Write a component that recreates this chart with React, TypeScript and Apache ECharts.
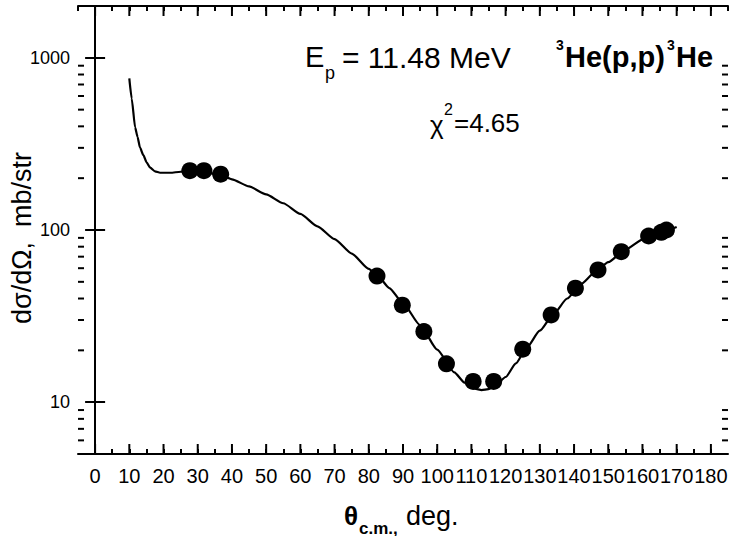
import React, { useEffect, useRef } from "react";
import * as echarts from "echarts";

// Experimental points: angle (deg, c.m.) and cross section (mb/str)
const pointAngles = [27.7, 31.8, 36.7, 82.4, 89.8, 96.1, 102.7, 110.5, 116.5, 125.0, 133.3, 140.4, 147.0, 153.8, 161.8, 165.5, 167.0];
const pointValues = [221, 221, 211, 54, 36.6, 25.7, 16.7, 13.2, 13.2, 20.3, 32.1, 45.9, 58.6, 74.8, 92.3, 97, 100];

// Fitted curve
const curveAngles = [10, 10.7, 11.7, 12.4, 13.1, 14.1, 15.1, 16.1, 17.5, 19, 22, 25, 28, 32, 37, 40, 45, 50, 55, 60, 65, 70, 75, 80, 83, 86, 90, 95, 100, 105, 108, 111, 113, 115, 117, 120, 123, 126, 130, 134, 138, 142, 146, 150, 155, 160, 165, 170];
const curveValues = [760, 580, 394, 348, 302, 272, 246, 230, 219, 215, 215, 218, 220, 217, 208, 197, 179, 161, 143, 124, 105, 88.5, 73, 59.5, 53, 46, 37.5, 28, 20.2, 14.9, 13.0, 12.0, 11.75, 11.9, 12.5, 14.0, 16.8, 20.5, 26, 32.5, 40, 48.5, 56.5, 65, 77, 88, 97, 104];

// Axis tick values
const xMajorTicks = [0, 10, 20, 30, 40, 50, 60, 70, 80, 90, 100, 110, 120, 130, 140, 150, 160, 170, 180];
const yMajorLabels = [10, 100, 1000];
const yMinorTicks = [6, 7, 8, 9, 20, 30, 40, 50, 60, 70, 80, 90, 200, 300, 400, 500, 600, 700, 800, 900];

const X_MIN = -5;
const X_MAX = 185;
const Y_MIN = 5;
const Y_MAX = 2000;

const FONT = "'Liberation Sans', Arial, Helvetica, sans-serif";

export default function App() {
  const ref = useRef<HTMLDivElement>(null);

  useEffect(() => {
    if (!ref.current) return;
    const chart = echarts.init(ref.current, null, { renderer: "svg" });

    const tickData: number[][] = [];
    xMajorTicks.forEach((v) => {
      tickData.push([v, Y_MIN, 0]);
      tickData.push([v, Y_MAX, 1]);
    });
    yMinorTicks.forEach((v) => {
      tickData.push([X_MIN, v, 2]);
      tickData.push([X_MAX, v, 3]);
    });

    const axisLine = { show: true, lineStyle: { color: "#000", width: 2 } };

    const xBase = {
      type: "value" as const,
      min: X_MIN,
      max: X_MAX,
      interval: 5,
      splitLine: { show: false },
      axisLine,
      axisTick: { show: true, inside: true, length: 5, lineStyle: { color: "#000", width: 2 } },
    };
    const yBase = {
      type: "log" as const,
      logBase: 10,
      min: Y_MIN,
      max: Y_MAX,
      splitLine: { show: false },
      axisLine,
      axisTick: { show: true, inside: true, length: 10, lineStyle: { color: "#000", width: 2 } },
    };

    const txt = (text: string, x: number, y: number, size: number, bold = false) => ({
      type: "text",
      x,
      y,
      style: {
        text,
        fontSize: size,
        fontWeight: bold ? "bold" : "normal",
        fontFamily: FONT,
        fill: "#000",
        align: "left",
        verticalAlign: "middle",
      },
    });

    chart.setOption({
      animation: false,
      backgroundColor: "#fff",
      grid: { left: 78, right: 3, top: 6, bottom: 82, containLabel: false },
      xAxis: [
        {
          ...xBase,
          position: "bottom",
          axisLabel: {
            color: "#000",
            fontSize: 20,
            fontFamily: FONT,
            margin: 12,
            showMinLabel: false,
            showMaxLabel: false,
            formatter: (v: number) => {
              const r = Math.round(v);
              return xMajorTicks.indexOf(r) >= 0 && Math.abs(v - r) < 1e-6 ? String(r) : "";
            },
          },
        },
        { ...xBase, position: "top", axisLabel: { show: false } },
      ],
      yAxis: [
        {
          ...yBase,
          position: "left",
          axisLabel: {
            color: "#000",
            fontSize: 18,
            fontFamily: FONT,
            margin: 8,
            showMinLabel: false,
            showMaxLabel: false,
            formatter: (v: number) => {
              const r = Math.round(v);
              return yMajorLabels.indexOf(r) >= 0 && Math.abs(v - r) < 1e-6 ? String(r) : "";
            },
          },
        },
        { ...yBase, position: "right", axisLabel: { show: false } },
      ],
      series: [
        {
          type: "line",
          xAxisIndex: 0,
          yAxisIndex: 0,
          data: curveAngles.map((a, i) => [a, curveValues[i]]),
          showSymbol: false,
          symbol: "none",
          smooth: 0.2,
          smoothMonotone: "x",
          lineStyle: { color: "#000", width: 2.2 },
          z: 3,
        },
        {
          type: "scatter",
          xAxisIndex: 0,
          yAxisIndex: 0,
          data: pointAngles.map((a, i) => [a, pointValues[i]]),
          symbol: "circle",
          symbolSize: 17,
          itemStyle: { color: "#000", opacity: 1 },
          z: 4,
        },
        {
          type: "custom",
          xAxisIndex: 0,
          yAxisIndex: 0,
          data: tickData,
          encode: { x: 0, y: 1 },
          clip: false,
          silent: true,
          z: 5,
          renderItem: (params: any, api: any) => {
            const kind = api.value(2);
            const p = api.coord([api.value(0), api.value(1)]);
            let shape;
            if (kind === 0) shape = { x1: p[0], y1: p[1], x2: p[0], y2: p[1] - 10 };
            else if (kind === 1) shape = { x1: p[0], y1: p[1], x2: p[0], y2: p[1] + 10 };
            else if (kind === 2) shape = { x1: p[0], y1: p[1], x2: p[0] + 6, y2: p[1] };
            else shape = { x1: p[0], y1: p[1], x2: p[0] - 6, y2: p[1] };
            return { type: "line", shape, style: { stroke: "#000", lineWidth: 2 } };
          },
        },
      ],
      graphic: [
        // E_p = 11.48 MeV
        txt("E", 305, 57, 29),
        txt("p", 325, 73, 18),
        txt("= 11.48 MeV", 342, 57, 30),
        // 3He(p,p)3He
        txt("3", 556, 45, 14, true),
        txt("He(p,p)", 565, 57, 29, true),
        txt("3", 667, 45, 14, true),
        txt("He", 676, 57, 29, true),
        // chi^2 = 4.65
        txt("\u03c7", 430, 125, 26),
        txt("2", 444, 109, 16),
        txt("=4.65", 454, 123, 26),
        // x axis title
        txt("\u03b8", 344, 516, 26, true),
        txt("c.m.,", 359, 528, 17, true),
        txt("deg.", 406, 516, 27),
        // y axis title
        {
          type: "text",
          x: 22,
          y: 238,
          rotation: Math.PI / 2,
          style: {
            text: "d\u03c3/d\u03a9,  mb/str",
            fontSize: 27,
            fontFamily: FONT,
            fill: "#000",
            align: "center",
            verticalAlign: "middle",
          },
        },
      ],
    });

    return () => chart.dispose();
  }, []);

  return (
    <div
      ref={ref}
      style={{ position: "fixed", left: 0, top: 0, width: 731, height: 536, background: "#fff" }}
    />
  );
}
